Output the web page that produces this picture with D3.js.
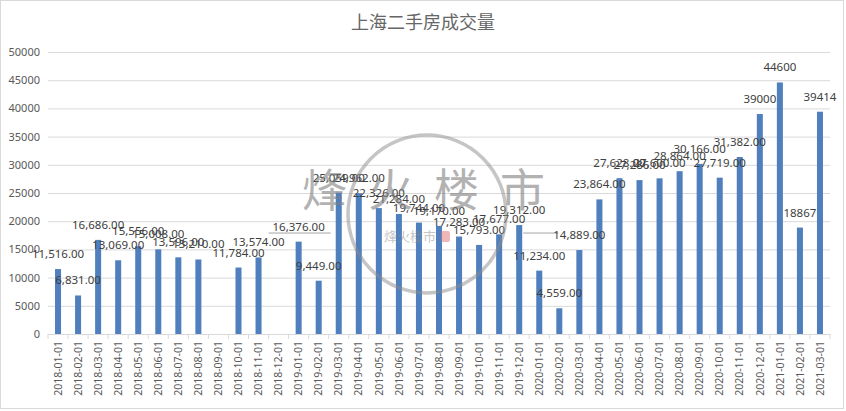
<!DOCTYPE html>
<html>
<head>
<meta charset="utf-8">
<script src="https://cdn.jsdelivr.net/npm/d3@7"></script>
<style>
  body { margin: 0; background: #fff; }
  svg { display: block; font-family: "Noto Sans CJK SC", "Noto Sans", sans-serif; }
</style>
</head>
<body>
<svg id="chart" width="846" height="411"></svg>
<script>
"use strict";

// months on the x axis
var months = [
  "2018-01-01","2018-02-01","2018-03-01","2018-04-01","2018-05-01","2018-06-01",
  "2018-07-01","2018-08-01","2018-09-01","2018-10-01","2018-11-01","2018-12-01",
  "2019-01-01","2019-02-01","2019-03-01","2019-04-01","2019-05-01","2019-06-01",
  "2019-07-01","2019-08-01","2019-09-01","2019-10-01","2019-11-01","2019-12-01",
  "2020-01-01","2020-02-01","2020-03-01","2020-04-01","2020-05-01","2020-06-01",
  "2020-07-01","2020-08-01","2020-09-01","2020-10-01","2020-11-01","2020-12-01",
  "2021-01-01","2021-02-01","2021-03-01"
];

// deals per month (null = no data)
var deals = [
  11516, 6831, 16686, 13069, 15556, 15008,
  13596, 13210, null, 11784, 13574, null,
  16376, 9449, 25059, 24962, 22326, 21284,
  19744, 19170, 17283, 15793, 17677, 19312,
  11234, 4559, 14889, 23864, 27628, 27286,
  27600, 28864, 30166, 27719, 31382, 39000,
  44600, 18867, 39414
];

// the last months are labelled without decimals
var plainFrom = "2020-12-01";

var yTicks = [0, 5000, 10000, 15000, 20000, 25000, 30000, 35000, 40000, 45000, 50000];

// leader lines left on the chart (category index span, value)
var leaders = [
  { from: 10.5, to: 13.6, value: 17900 },
  { from: 23.2, to: 24.95, value: 17900 }
];

var svg = d3.select("#chart");
var W = 846, H = 411;
var pLeft = 48, pRight = 830, pTop = 52, pBottom = 334;

svg.append("rect")
  .attr("x", 0.5).attr("y", 0.5)
  .attr("width", W - 3).attr("height", H - 3)
  .attr("fill", "#fff").attr("stroke", "#d9d9d9");

var x = d3.scaleBand().domain(months).range([pLeft, pRight])
  .paddingInner(0.7).paddingOuter(0.35);
var y = d3.scaleLinear().domain([0, 50000]).range([pBottom, pTop]);
var step = x.step();
function xi(i) { return pLeft + step * (i + 0.5); }

// title
svg.append("text")
  .attr("x", 423).attr("y", 29)
  .attr("text-anchor", "middle")
  .attr("font-size", 18)
  .attr("fill", "#666")
  .text("上海二手房成交量");

// gridlines + y labels
var yAxis = d3.axisLeft(y).tickValues(yTicks).tickSize(-(pRight - pLeft)).tickFormat(d3.format("d"));
var gy = svg.append("g").attr("transform", "translate(" + pLeft + ",0)").call(yAxis);
gy.select(".domain").remove();
gy.selectAll(".tick line").attr("stroke", "#d9d9d9");
gy.selectAll(".tick text")
  .attr("x", -8)
  .attr("font-size", 11)
  .attr("font-family", "Noto Sans, sans-serif")
  .attr("fill", "#595959");

// x axis
var xAxis = d3.axisBottom(x).tickSize(0);
var gx = svg.append("g").attr("transform", "translate(0," + pBottom + ")").call(xAxis);
gx.select(".domain").attr("stroke", "#d9d9d9");
gx.selectAll(".tick text")
  .attr("transform", "rotate(-90)")
  .attr("text-anchor", "end")
  .attr("x", -7).attr("y", 0).attr("dy", "0.35em")
  .attr("font-size", 10.5)
  .attr("font-family", "Noto Sans, sans-serif")
  .attr("fill", "#595959");
// tick marks between categories
gx.selectAll(".sep")
  .data(d3.range(months.length + 1))
  .enter().append("line")
  .attr("class", "sep")
  .attr("x1", function(i) { return pLeft + step * i; })
  .attr("x2", function(i) { return pLeft + step * i; })
  .attr("y1", 0).attr("y2", 5)
  .attr("stroke", "#d9d9d9");

// bars
var rows = months.map(function(m, i) { return { m: m, v: deals[i] }; })
  .filter(function(d) { return d.v != null; });

svg.append("g").selectAll("rect")
  .data(rows).enter().append("rect")
  .attr("x", function(d) { return x(d.m); })
  .attr("y", function(d) { return y(d.v); })
  .attr("width", x.bandwidth())
  .attr("height", function(d) { return y(0) - y(d.v); })
  .attr("fill", "#4f7fbd");

// leader lines
svg.append("g").selectAll("line")
  .data(leaders).enter().append("line")
  .attr("x1", function(d) { return xi(d.from); })
  .attr("x2", function(d) { return xi(d.to); })
  .attr("y1", function(d) { return y(d.value); })
  .attr("y2", function(d) { return y(d.value); })
  .attr("stroke", "#a6a6a6");

// value labels
var fmt2 = d3.format(",.2f"), fmtInt = d3.format("d");
svg.append("g").selectAll("text")
  .data(rows).enter().append("text")
  .attr("x", function(d) { return x(d.m) + x.bandwidth() / 2; })
  .attr("y", function(d) { return y(d.v) - 11; })
  .attr("text-anchor", "middle")
  .attr("font-size", 11.5)
  .attr("font-family", "Noto Sans, sans-serif")
  .attr("fill", "#404040")
  .text(function(d) { return d.m >= plainFrom ? fmtInt(d.v) : fmt2(d.v); });

// watermark
var wm = svg.append("g").attr("pointer-events", "none");
wm.append("circle")
  .attr("cx", 427).attr("cy", 214).attr("r", 79)
  .attr("fill", "none").attr("stroke", "#8c8c8c").attr("stroke-width", 3.5)
  .attr("opacity", 0.5);
wm.append("text")
  .attr("x", 302).attr("y", 207)
  .attr("font-size", 45)
  .attr("letter-spacing", 21)
  .attr("fill", "#7f7f7f")
  .attr("opacity", 0.6)
  .text("烽火楼市");
wm.append("text")
  .attr("x", 410).attr("y", 241)
  .attr("text-anchor", "middle")
  .attr("font-size", 13)
  .attr("fill", "#8c8c8c")
  .attr("opacity", 0.5)
  .text("烽火楼市");
wm.append("rect")
  .attr("x", 441).attr("y", 231).attr("width", 9).attr("height", 11).attr("rx", 2)
  .attr("fill", "#e07070").attr("opacity", 0.5);
</script>
</body>
</html>
